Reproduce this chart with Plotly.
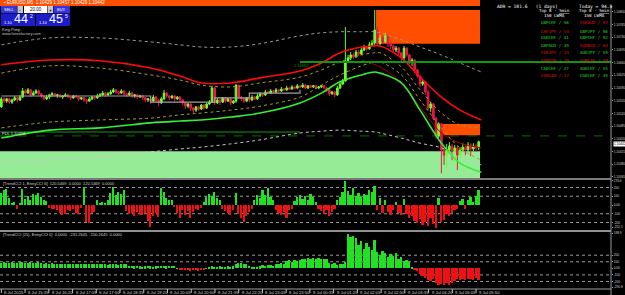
import plotly.graph_objects as go

# ---------------- data (prices in points above 1.10000) ----------------
open0_pts = 538
close_pts = [560, 554, 560, 551, 557, 563, 557, 565, 582, 576,
             585, 571, 576, 582, 574, 568, 560, 565, 571, 574,
             568, 571, 565, 568, 571, 565, 563, 568, 565, 560,
             563, 557, 554, 560, 565, 563, 568, 571, 576, 571,
             574, 579, 585, 579, 576, 582, 574, 571, 576, 568,
             571, 565, 568, 563, 557, 560, 554, 565, 557, 549,
             560, 576, 568, 563, 568, 560, 565, 557, 549, 540,
             546, 535, 529, 538, 532, 543, 535, 546, 551, 590,
             549, 557, 551, 563, 554, 560, 549, 554, 598, 565,
             560, 554, 563, 557, 565, 560, 568, 574, 571, 579,
             576, 582, 579, 585, 582, 587, 585, 590, 587, 593,
             590, 596, 593, 598, 590, 596, 593, 596, 590, 593,
             596, 590, 585, 574, 579, 571, 590, 601, 609, 662,
             673, 681, 676, 689, 684, 695, 703, 698, 709, 714,
             750, 712, 728, 717, 734, 712, 706, 695, 700, 687,
             673, 700, 681, 662, 667, 640, 623, 601, 607, 579,
             535, 546, 507, 458, 491, 419, 405, 419, 430, 414,
             425, 405, 419, 427, 419, 433, 422, 430, 425, 442]
high_pts = [565, 565, 563, 563, 560, 568, 565, 571, 590, 587,
            590, 587, 582, 587, 585, 576, 571, 571, 574, 579,
            576, 574, 574, 571, 576, 574, 568, 571, 571, 568,
            565, 565, 560, 565, 568, 568, 574, 576, 582, 579,
            579, 585, 590, 587, 582, 587, 585, 576, 582, 579,
            574, 574, 571, 571, 565, 563, 563, 571, 568, 560,
            565, 585, 579, 571, 571, 571, 568, 568, 560, 551,
            549, 549, 538, 540, 540, 546, 546, 549, 557, 596,
            593, 563, 560, 565, 565, 563, 563, 557, 601, 598,
            568, 563, 565, 565, 571, 568, 574, 579, 576, 585,
            582, 587, 585, 590, 587, 593, 590, 596, 593, 598,
            596, 601, 598, 604, 601, 598, 598, 598, 598, 596,
            598, 598, 593, 587, 582, 582, 596, 607, 615, 758,
            681, 689, 687, 695, 695, 700, 709, 706, 717, 723,
            805, 758, 736, 734, 742, 736, 717, 709, 706, 703,
            689, 706, 703, 684, 673, 670, 643, 626, 612, 609,
            585, 551, 549, 510, 496, 494, 430, 436, 441, 436,
            433, 430, 427, 438, 433, 441, 438, 438, 436, 445]
low_pts = [535, 549, 549, 546, 546, 554, 551, 554, 563, 571,
           574, 565, 568, 574, 571, 563, 557, 557, 560, 565,
           565, 563, 563, 560, 565, 563, 557, 560, 563, 554,
           557, 551, 546, 551, 557, 557, 560, 565, 568, 565,
           568, 571, 576, 574, 571, 574, 568, 565, 568, 563,
           563, 560, 563, 557, 551, 551, 546, 551, 551, 540,
           546, 557, 563, 557, 560, 554, 557, 551, 543, 532,
           535, 527, 521, 524, 527, 529, 529, 532, 543, 549,
           543, 546, 543, 549, 549, 551, 543, 546, 549, 560,
           554, 549, 551, 551, 554, 557, 557, 565, 565, 568,
           574, 574, 576, 576, 579, 579, 582, 582, 585, 585,
           587, 587, 590, 590, 587, 587, 590, 590, 587, 587,
           590, 587, 579, 568, 571, 565, 568, 587, 598, 607,
           659, 667, 670, 673, 678, 681, 692, 692, 695, 706,
           709, 706, 709, 712, 714, 703, 698, 687, 689, 681,
           662, 667, 676, 656, 651, 631, 618, 593, 596, 571,
           529, 524, 502, 449, 452, 355, 378, 369, 414, 391,
           386, 364, 397, 414, 405, 414, 402, 416, 414, 419]

trend_cci = [140, 175, 185, 80, 25, 30, -50, 20, 183, 70,
             100, 60, 130, 110, 140, 90, 60, 50, -35, -50,
             -40, -60, -95, -110, -100, -60, -70, -40, -90, -100,
             -30, 210, -190, -210, -90, -80, 55, 25, 30, 20,
             60, 140, 210, 110, 150, 130, 170, -70, -100, -90,
             -130, -80, -110, -120, -90, -180, -250, -130, -90, -140,
             190, 150, 80, 60, 55, -20, -90, -150, -60, -120,
             -70, -150, -80, -40, -60, -30, 40, 90, 130, 100,
             150, 80, 60, -40, -70, -90, -120, -60, 140, -100,
             -150, -190, -130, -80, -50, 60, 110, 80, 170, 120,
             200, 90, 60, -60, -90, -120, -80, -150, -60, -40,
             50, 90, 120, 70, 100, 60, 130, 90, 40, -50,
             -70, -100, -60, -130, -80, -40, 60, 90, 150, 270,
             160, 120, 190, 100, 140, 90, 130, 110, 170, 150,
             220, -60, 80, -90, 60, -80, -110, -60, 40, -90,
             -120, 70, -100, -150, -130, -180, -210, -160, -230, -200,
             -240, -150, -220, -260, 80, -200, -170, -100, -130, -90,
             -60, -40, 50, 70, -50, 60, 90, 40, 100, 170]
entry_cci = [85, 90, 80, 85, 90, 85, 80, 90, 95, 85,
             80, 90, 85, 80, 90, 75, 70, 80, 70, 75,
             70, 65, 70, 65, 70, 60, 65, 70, 65, 60,
             65, 70, 60, 65, 60, 70, 65, 60, 65, 60,
             55, 60, 65, 60, 55, 60, 65, 70, 40, 35,
             30, 35, 30, 25, 30, 35, 30, 25, 30, 35,
             40, 35, 30, 35, 40, 35, 5, -20, -30, -25,
             -30, -35, -25, -30, -35, -25, -20, 5, 25, 30,
             20, 25, 30, 25, 20, 30, 25, 30, 70, 80,
             75, 70, 60, 40, 25, 20, 25, 30, 45, 40,
             50, 45, 40, 70, 65, 75, 70, 110, 120, 100,
             130, 110, 125, 150, 140, 165, 150, 160, 145, 155,
             140, 150, 135, 80, 60, 75, 50, 70, 60, 90,
             520, 480, 500, 470, 350, 420, 300, 380, 320, 280,
             430, 250, 200, 270, 230, 180, 220, 190, 240, 140,
             170, 110, 130, 90, 20, -20, -40, -80, -120, -150,
             -180, -200, -170, -220, -250, -240, -260, -230, -250, -220,
             -190, -170, -180, -160, -185, -170, -160, -180, -150, -175]

band_x = [0, 18, 37, 56, 67, 75, 86, 97, 112, 120, 127, 135, 140, 142, 150, 157, 165, 172, 180]
upper_red = [654, 667, 665, 645, 623, 604, 604, 618, 637, 659, 687, 703, 706, 706, 673, 620, 565, 529, 502]
upper_inner = [631, 651, 645, 626, 612, 598, 593, 604, 620, 640, 662, 681, 687, 687, 648, 585, 521, 488, 482]
lower_inner = [480, 496, 502, 507, 516, 521, 529, 540, 565, 598, 626, 651, 662, 662, 626, 557, 480, 425, 391]
lower_green = [452, 474, 480, 494, 499, 502, 510, 521, 549, 576, 607, 626, 634, 631, 604, 529, 438, 383, 358]
outer_upper = [709, 728, 728, 717, 709, 703, 703, 712, 734, 742, 745, 745, 745, 742, 723, 703, 681, 659, 634]
outer_lower = [383, 391, 400, 414, 422, 427, 436, 447, 466, 471, 474, 471, 469, 466, 452, 438, 425, 400, 378]
mid_x = [135, 142, 150, 157, 165, 172, 180]
mid_dark = [667, 648, 604, 538, 466, 438, 425]
ma_x = [0, 52, 56, 76, 80, 90, 93, 112]
ma_gray = [568, 568, 551, 551, 563, 563, 576, 585]

supply_zone = (712, 805, 140.5)
supply_zone2 = (460, 491, 162.8)
demand_zone = (342, 416, -0.5)
zone_end = 179.5
green_level = (662, 112)
day_low_solid = (469, 112)
day_low_dash = 458
last_price = "1.10442"

price_ticks = [800, 765, 730, 695, 660, 625, 590, 555, 520, 485, 450, 415, 380, 345]
sub1_ticks = [276, 200, 100, 0, -100, -200, -252]
sub1_labels = ["276.6", "200", "100", "0.00", "-100", "-200", "-252.1"]
sub2_ticks = [538, 200, 100, 0, -100, -200, -290]
sub2_labels = ["538.9", "200", "100", "0.00", "-100", "-200", "-290.8"]
time_labels = ["8 Jul 2015", "8 Jul 15:35", "8 Jul 16:20", "8 Jul 17:05", "8 Jul 17:50",
               "8 Jul 18:35", "8 Jul 19:20", "8 Jul 20:05", "8 Jul 20:50", "8 Jul 21:35",
               "8 Jul 22:20", "8 Jul 23:05", "8 Jul 23:50", "9 Jul 00:35", "9 Jul 01:20",
               "9 Jul 02:05", "9 Jul 02:50", "9 Jul 03:35", "9 Jul 04:20", "9 Jul 05:05",
               "9 Jul 05:50"]
left_pairs = ["GBPCHF / 56", "CHFJPY / 54", "USDCHF / 41", "GBPAUD / 39",
              "EURJPY / 34", "EURUSD / 29", "CADCHF / 27", "EURCAD / 27"]
left_up = [1, 0, 1, 1, 0, 0, 1, 0]
right_pairs = ["EURAUD / 97", "GBPJPY / 96", "GBPCHF / 92", "EURNZD / 63",
               "AUDJPY / 59", "EURCAD / 58", "AUDCHF / 55", "USDCHF / 49"]
right_up = [0, 1, 1, 0, 1, 0, 1, 1]

# ---------------- figure ----------------
W, H = 625, 295
AX = 611 / W
def py(p): return 1 - p / H
def P(v): return 1.1 + v / 1e5
def PL(a): return [P(v) for v in a]

N = len(close_pts)
bars = list(range(N))
opens = [open0_pts] + close_pts[:-1]
highs = [max(h, o, c) for h, o, c in zip(high_pts, opens, close_pts)]
lows = [min(l, o, c) for l, o, c in zip(low_pts, opens, close_pts)]

GREEN = "#6CFF2E"
RED = "#E8174A"

fig = go.Figure()

def band(xs, ys, color, width=1.0, dash="solid"):
    fig.add_trace(go.Scatter(x=xs, y=PL(ys), mode="lines", xaxis="x", yaxis="y",
                             line=dict(color=color, width=width, dash=dash, shape="spline"),
                             hoverinfo="skip", showlegend=False))

band(band_x, outer_upper, "#9A9A9A", 1, "dot")
band(band_x, outer_lower, "#C8C8C8", 1, "dot")
band(band_x, upper_inner, "#A89A30", 1, "dot")
band(band_x, lower_inner, "#A89A30", 1, "dot")
band(mid_x, mid_dark, "#A00000", 1)
band(band_x, upper_red, "#FF0A0A", 1.6)
band(band_x, lower_green, "#33F033", 1.6)
fig.add_trace(go.Scatter(x=ma_x, y=PL(ma_gray), mode="lines", xaxis="x", yaxis="y",
                         line=dict(color="#A0A0A0", width=1.2, shape="hv"),
                         hoverinfo="skip", showlegend=False))

fig.add_trace(go.Candlestick(
    x=bars, open=PL(opens), high=PL(highs), low=PL(lows), close=PL(close_pts),
    xaxis="x", yaxis="y",
    increasing=dict(line=dict(color=GREEN, width=1), fillcolor=GREEN),
    decreasing=dict(line=dict(color=RED, width=1), fillcolor=RED),
    whiskerwidth=0, hoverinfo="skip", showlegend=False))

fig.add_trace(go.Bar(x=bars, y=trend_cci, xaxis="x", yaxis="y2", width=0.6,
                     marker=dict(color=["#22E022" if v >= 0 else "#EE1111" for v in trend_cci],
                                 line=dict(width=0)),
                     hoverinfo="skip", showlegend=False))
fig.add_trace(go.Bar(x=bars, y=entry_cci, xaxis="x", yaxis="y3", width=0.6,
                     marker=dict(color=["#22E022" if v >= 0 else "#EE1111" for v in entry_cci],
                                 line=dict(width=0)),
                     hoverinfo="skip", showlegend=False))

shapes = []
def rect(x0, x1, y0, y1, color, xref="x", yref="y", layer="below"):
    shapes.append(dict(type="rect", xref=xref, yref=yref, x0=x0, x1=x1, y0=y0, y1=y1,
                       fillcolor=color, line=dict(width=0), layer=layer))
def hline(x0, x1, y, color, width=1, dash="solid", xref="x", yref="y", layer="below"):
    shapes.append(dict(type="line", xref=xref, yref=yref, x0=x0, x1=x1, y0=y, y1=y,
                       line=dict(color=color, width=width, dash=dash), layer=layer))

# zones
rect(supply_zone[2], zone_end, P(supply_zone[0]), P(supply_zone[1]), "#FF4E00")
rect(supply_zone2[2], zone_end, P(supply_zone2[0]), P(supply_zone2[1]), "#FF4E00")
rect(demand_zone[2], zone_end, P(demand_zone[0]), P(demand_zone[1]), "#96EC96")
# horizontal levels
shapes.append(dict(type="line", xref="x", yref="y", x0=green_level[1], x1=228.6,
                   y0=P(green_level[0]), y1=P(green_level[0]),
                   line=dict(color="#0B9A0B", width=2), layer="above"))
hline(-0.5, day_low_solid[1], P(day_low_solid[0]), "#0A6A0A", 1.5)
hline(-0.5, 228.6, P(day_low_dash), "#0A6A0A", 1, "dash")

# sub-window level lines
for lv in [200, 100, -100, -200]:
    hline(-0.5, 228.6, lv, "#9A9A9A", 1, "dot", yref="y2")
    hline(-0.5, 228.6, lv, "#9A9A9A", 1, "dot", yref="y3")

# title strip, separators, axis line
rect(0, 480 / W, py(6), 1, "#FF4E00", xref="paper", yref="paper", layer="above")
hline(0, AX, py(179), "#7A7A7A", 2, xref="paper", yref="paper", layer="above")
hline(0, AX, py(231), "#C0C0C0", 1.5, xref="paper", yref="paper", layer="above")
hline(0, AX, py(289), "#A0A0A0", 1, xref="paper", yref="paper", layer="above")
shapes.append(dict(type="line", xref="paper", yref="paper", x0=AX, x1=AX, y0=py(295), y1=py(6),
                   line=dict(color="#9A9A9A", width=1), layer="above"))

# trade panel boxes
rect(1 / W, 17 / W, py(13), py(6), "#3434E0", "paper", "paper", "above")
rect(17.5 / W, 23 / W, py(13), py(6), "#C8C8C8", "paper", "paper", "above")
rect(24 / W, 47 / W, py(13), py(6), "#FFFFFF", "paper", "paper", "above")
rect(47.5 / W, 53 / W, py(13), py(6), "#C8C8C8", "paper", "paper", "above")
rect(53.5 / W, 70 / W, py(13), py(6), "#3434E0", "paper", "paper", "above")
rect(1 / W, 35 / W, py(26), py(13.5), "#1C1CC8", "paper", "paper", "above")
rect(36 / W, 70 / W, py(26), py(13.5), "#1C1CC8", "paper", "paper", "above")

ann = []
def txt(x, y, s, size=5, color="#FFFFFF", anchor="left", bg=None, family="Liberation Sans"):
    d = dict(x=x / W, y=py(y), xref="paper", yref="paper", text=s,
             showarrow=False, xanchor=anchor, yanchor="middle",
             font=dict(size=size, color=color, family=family), borderpad=0)
    if bg:
        d["bgcolor"] = bg
    ann.append(d)

txt(3, 3, "▪ EURUSD,M5  1.10429 1.10457 1.10429 1.10442", 4.5)
txt(9, 9.5, "SELL", 4, anchor="center")
txt(20, 9.5, "-", 5, "#000000", anchor="center")
txt(35.5, 9.5, "20.00", 4.5, "#000000", anchor="center")
txt(50, 9.5, "+", 5, "#000000", anchor="center")
txt(61.5, 9.5, "BUY", 4, anchor="center")
txt(3, 22, "1.10", 4)
txt(21, 19.5, "44", 12.5, anchor="center")
txt(29, 16, "2", 5)
txt(38, 22, "1.10", 4)
txt(56, 19.5, "45", 12.5, anchor="center")
txt(64, 16, "5", 5)
txt(1, 29, "King Pimp", 4, "#C0C0C0")
txt(1, 34, "www.forexfactory.com", 4, "#C0C0C0")

txt(527, 6, "ADR = 101.6   (1 days)", 4.6, anchor="center", family="DejaVu Sans Mono")
txt(595, 6, "Today = 94.9", 4.6, anchor="center", family="DejaVu Sans Mono")
for cx in (554, 594):
    txt(cx, 10.5, "Top 8 - <u>5min</u>", 4.2, anchor="center", family="DejaVu Sans Mono")
    txt(cx, 15.5, "150 LWMA", 4.2, anchor="center", family="DejaVu Sans Mono")
rows_y = [23, 31, 38, 45, 52, 60, 68, 75]
for s, up, yy in zip(left_pairs, left_up, rows_y):
    txt(555, yy, s, 4.2, "#22DD22" if up else "#E01010", anchor="center", family="DejaVu Sans Mono")
for s, up, yy in zip(right_pairs, right_up, rows_y):
    txt(594, yy, s, 4.2, "#22DD22" if up else "#E01010", anchor="center", family="DejaVu Sans Mono")

txt(293, 65.5, "1.10662", 4, "#0B9A0B")
txt(1, 133.5, "PDL 1.10458", 4, "#E0E0E0")
txt(2, 183, "[TrendCCI 1, EntryCCI 6]  120.5469  0.0000  120.5469  0.0000", 4, "#D0D0D0")
txt(2, 234, "[TrendCCI (25), EntryCCI 0]  0.0000  -231.2645  -150.2645  0.0000", 4, "#D0D0D0")

# price box for last price
txt(613, 144.5, last_price, 3.2, "#000000", bg="#FFFFFF")

# time axis labels
step = 8.9
for k, lab in enumerate(time_labels):
    xb = k * step
    shapes.append(dict(type="line", xref="x", yref="paper", x0=xb, x1=xb, y0=py(289), y1=py(293),
                       line=dict(color="#C0C0C0", width=1), layer="above"))
    ann.append(dict(x=xb, y=py(292), xref="x", yref="paper", text=lab, showarrow=False,
                    xanchor="left", yanchor="middle", xshift=1,
                    font=dict(size=4.2, color="#D0D0D0", family="Liberation Sans")))

tickfont = dict(size=3.2, color="#D0D0D0", family="Liberation Sans")
yax = dict(side="right", anchor="x", tickfont=tickfont, ticks="outside", ticklen=1,
           tickcolor="#A0A0A0", showgrid=False, zeroline=False, showline=False,
           automargin=False, fixedrange=True)
fig.update_layout(
    width=W, height=H, margin=dict(l=0, r=0, t=0, b=0, pad=0, autoexpand=False), autosize=False,
    paper_bgcolor="#000000", plot_bgcolor="#000000",
    showlegend=False, bargap=0, barmode="overlay", boxgap=0.12,
    shapes=shapes, annotations=ann,
    xaxis=dict(domain=[0, AX], range=[-0.5, 228.6], visible=False, anchor="y3",
               rangeslider=dict(visible=False), fixedrange=True, automargin=False),
    yaxis=dict(yax, domain=[py(178), py(6)], range=[P(342), P(816)],
               tickvals=PL(price_ticks), ticktext=["%.5f" % P(v) for v in price_ticks]),
    yaxis2=dict(yax, domain=[py(230), py(180)], range=[-286, 286],
                tickvals=sub1_ticks, ticktext=sub1_labels),
    yaxis3=dict(yax, domain=[py(289), py(232)], range=[-315, 554],
                tickvals=sub2_ticks, ticktext=sub2_labels),
)

fig.write_html(
    "out.html",
    config={"responsive": False, "displayModeBar": False},
    post_script=("document.documentElement.style.margin='0';document.body.style.margin='0';"
                 "document.body.style.background='#000';"
                 "document.documentElement.style.overflow='hidden';"),
)
